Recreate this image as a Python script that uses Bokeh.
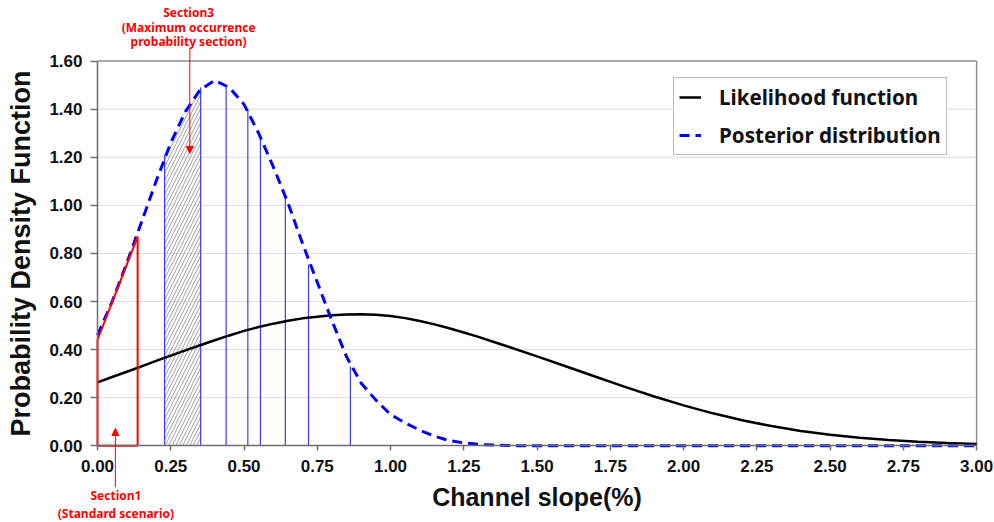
from bokeh.plotting import figure
from bokeh.models import (Legend, LegendItem, Label, Arrow, NormalHead, NumeralTickFormatter,
                          FixedTicker, Range1d)
from bokeh.embed import file_html
from bokeh.resources import INLINE

# ---------------- data ----------------
like_x = [0.0, 0.05, 0.1, 0.15, 0.2, 0.25, 0.3, 0.35, 0.4, 0.45, 0.5, 0.55, 0.6, 0.65, 0.7,
          0.75, 0.8, 0.85, 0.9, 0.95, 1.0, 1.05, 1.1, 1.15, 1.2, 1.25, 1.3, 1.35, 1.4, 1.5,
          1.6, 1.7, 1.8, 1.9, 2.0, 2.1, 2.2, 2.3, 2.4, 2.5, 2.6, 2.7, 2.8, 2.9, 3.0]
like_y = [0.264, 0.286, 0.308, 0.330, 0.353, 0.375, 0.397, 0.418, 0.439, 0.459, 0.478, 0.494,
          0.508, 0.520, 0.530, 0.537, 0.543, 0.546, 0.547, 0.545, 0.540, 0.531, 0.519, 0.505,
          0.489, 0.471, 0.453, 0.433, 0.413, 0.372, 0.330, 0.287, 0.245, 0.205, 0.168, 0.135,
          0.106, 0.082, 0.062, 0.046, 0.033, 0.024, 0.017, 0.012, 0.008]

post_x = [0.0, 0.05, 0.1, 0.15, 0.2, 0.25, 0.3, 0.35, 0.4, 0.45, 0.5, 0.55, 0.6, 0.65, 0.7,
          0.75, 0.8, 0.85, 0.9, 0.95, 1.0, 1.05, 1.1, 1.15, 1.2, 1.25, 1.3, 1.35, 1.4, 1.5,
          2.0, 2.5, 3.0]
post_y = [0.46, 0.60, 0.76, 0.93, 1.10, 1.26, 1.39, 1.48, 1.52, 1.49, 1.42, 1.30, 1.16, 1.01,
          0.84, 0.68, 0.52, 0.37, 0.26, 0.19, 0.13, 0.095, 0.065, 0.04, 0.022, 0.012, 0.006,
          0.003, 0.001, 0.0, 0.0, 0.0, 0.0]

# vertical section boundaries under the posterior curve
bound_x = [0.229, 0.352, 0.439, 0.513, 0.556, 0.641, 0.72, 0.863]
bound_top = [1.21, 1.49, 1.49, 1.40, 1.28, 1.04, 0.754, 0.33]

# Section1 (standard scenario) outline
sec1_x = [0.0, 0.0, 0.137, 0.137]
sec1_y = [0.0, 0.44, 0.87, 0.0]

x_ticks = [0.0, 0.25, 0.5, 0.75, 1.0, 1.25, 1.5, 1.75, 2.0, 2.25, 2.5, 2.75, 3.0]
y_ticks = [0.0, 0.2, 0.4, 0.6, 0.8, 1.0, 1.2, 1.4, 1.6]
X_MIN, X_MAX = 0.0, 3.0
Y_MIN, Y_MAX = 0.0, 1.6

# ---------------- figure ----------------
# The frame covers the whole canvas so that annotations outside the axes box are not clipped;
# the axes are pinned at x=0 / y=0 with fixed_location.
p = figure(width=994, height=522, output_backend="svg", toolbar_location=None,
           x_range=Range1d(-0.331, 3.061), y_range=Range1d(-0.319, 1.852),
           min_border=0)
p.background_fill_color = "white"
p.border_fill_color = "white"
p.outline_line_color = None
p.xgrid.grid_line_color = None
p.ygrid.grid_line_color = None

# horizontal grid lines and the top/right box lines
grid_y = [t for t in y_ticks if Y_MIN < t < Y_MAX]
p.segment(x0=[X_MIN] * len(grid_y), y0=grid_y, x1=[X_MAX] * len(grid_y), y1=grid_y,
          line_color="#dcdcdc", line_width=1)
p.segment(x0=[X_MIN, X_MAX], y0=[Y_MAX, Y_MIN], x1=[X_MAX, X_MAX], y1=[Y_MAX, Y_MAX],
          line_color="#8c8c8c", line_width=1.5)

for ax, ticks, bnd in ((p.xaxis, x_ticks, (X_MIN, X_MAX)), (p.yaxis, y_ticks, (Y_MIN, Y_MAX))):
    ax.fixed_location = 0
    ax.bounds = bnd
    ax.ticker = FixedTicker(ticks=ticks)
    ax.formatter = NumeralTickFormatter(format="0.00")
    ax.major_label_text_font = "Liberation Sans"
    ax.major_label_text_font_style = "bold"
    ax.major_label_text_font_size = "17px"
    ax.major_label_text_color = "#111111"
    ax.axis_line_color = "#6e6e6e"
    ax.axis_line_width = 1.5
    ax.major_tick_line_color = "#6e6e6e"
    ax.major_tick_line_width = 1.5
    ax.major_tick_in = 0
    ax.minor_tick_line_color = None
    ax.axis_label_text_font = "Liberation Sans"
    ax.axis_label_text_font_style = "bold"
    ax.axis_label_text_color = "#111111"

p.xaxis.major_tick_out = 5
p.yaxis.major_tick_out = 7
p.xaxis.major_label_standoff = 9
p.yaxis.major_label_standoff = 8
p.xaxis.axis_label = "Channel slope(%)"
p.xaxis.axis_label_text_font_size = "25px"
p.xaxis.axis_label_standoff = 8
p.yaxis.axis_label = "Probability Density Function"
p.yaxis.axis_label_text_font_size = "27px"
p.yaxis.axis_label_standoff = 10

# hatched section (maximum occurrence probability section)
hx = [bound_x[0]] + [x for x in post_x if bound_x[0] < x < bound_x[1]] + [bound_x[1]]
hy = [bound_top[0]] + [y for x, y in zip(post_x, post_y) if bound_x[0] < x < bound_x[1]] + [bound_top[1]]
p.varea(x=hx, y1=[0] * len(hx), y2=hy, fill_alpha=0, hatch_pattern="/",
        hatch_color="#a0a0a0", hatch_weight=1, hatch_scale=7)

# vertical boundary lines
p.segment(x0=bound_x, y0=[0] * len(bound_x), x1=bound_x, y1=bound_top,
          line_color="#3b3bff", line_width=1.2)

# curves
r_like = p.line(like_x, like_y, line_color="black", line_width=2.5)
r_post = p.line(post_x, post_y, line_color="#0000ff", line_width=3, line_dash="10 6")

# section 1 outline
p.patch(sec1_x, sec1_y, fill_color=None, line_color="#ff0000", line_width=2)

# legend (location in pixels from the bottom-left of the canvas-sized frame)
legend = Legend(items=[LegendItem(label="Likelihood function", renderers=[r_like]),
                       LegendItem(label="Posterior distribution", renderers=[r_post])],
                location=(673, 367), orientation="vertical")
legend.label_text_font = "Noto Sans"
legend.label_text_font_style = "bold"
legend.label_text_font_size = "20.6px"
legend.label_text_color = "#111111"
legend.glyph_width = 22
legend.label_standoff = 18
legend.padding = 5
legend.spacing = 10
legend.margin = 0
legend.border_line_color = "#7a7a7a"
legend.border_line_width = 1.2
legend.background_fill_alpha = 1
p.add_layout(legend)

# annotations
lbl_kw = dict(text_color="#ff0000", text_font="Noto Sans", text_font_style="bold",
              text_font_size="12px", text_align="center", text_baseline="middle")
for txt, yy in (("Section3", 1.802), ("(Maximum occurrence", 1.740), ("probability section)", 1.682)):
    p.add_layout(Label(x=0.311, y=yy, text=txt, **lbl_kw))
for txt, yy in (("Section1", -0.207), ("(Standard scenario)", -0.282)):
    p.add_layout(Label(x=0.063, y=yy, text=txt, **lbl_kw))

p.add_layout(Arrow(x_start=0.315, y_start=1.653, x_end=0.315, y_end=1.216,
                   line_color="#ff0000", line_width=1,
                   end=NormalHead(size=7, fill_color="#ff0000", line_color="#ff0000")))
p.add_layout(Arrow(x_start=0.061, y_start=-0.173, x_end=0.061, y_end=0.072,
                   line_color="#ff0000", line_width=1,
                   end=NormalHead(size=7, fill_color="#ff0000", line_color="#ff0000")))

open("out.html", "w").write(file_html(p, INLINE))
